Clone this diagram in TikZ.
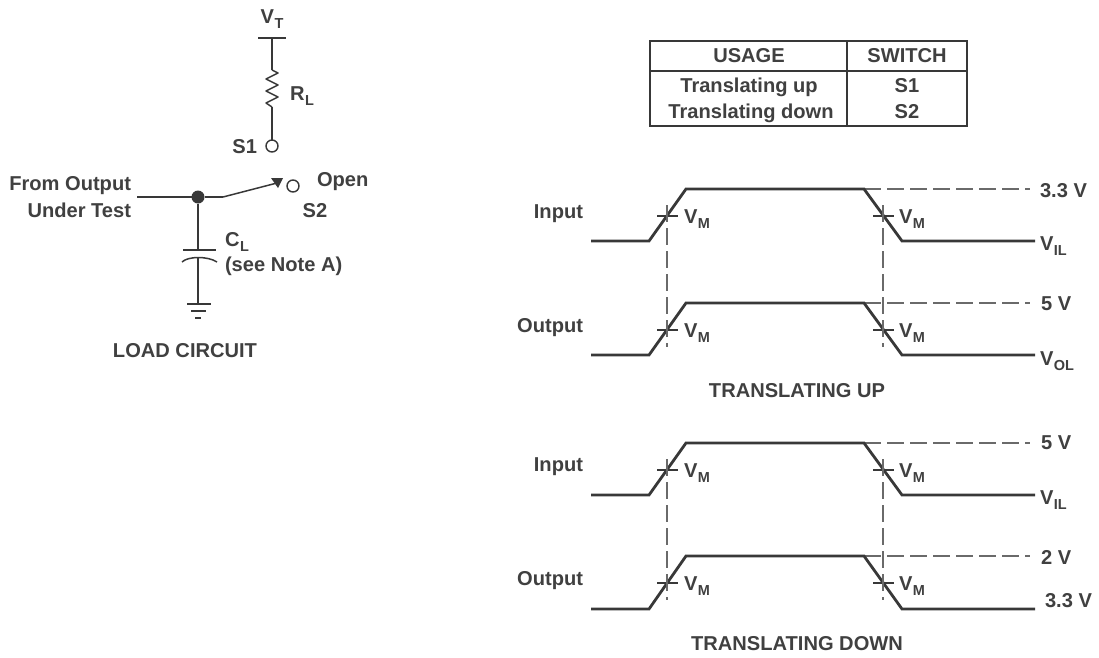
\documentclass[tikz,border=0pt]{standalone}
\usepackage{fontspec}
\setmainfont{Liberation Sans}[BoldFont={Liberation Sans Bold}]
\definecolor{ink}{gray}{0.22}
\definecolor{txt}{gray}{0.25}
\tikzset{
  x=1pt,y=-1pt,
  every node/.style={inner sep=0pt,outer sep=0pt,text=txt,font=\fontsize{20.1}{22}\selectfont\bfseries},
  wire/.style={draw=ink,line width=1.5pt},
  wave/.style={draw=ink,line width=2.8pt,line join=miter},
  guide/.style={draw=ink!75,line width=1.2pt,dash pattern=on 17pt off 6pt},
  tick/.style={draw=ink,line width=1.2pt},
  terminal/.style={circle,draw=ink,line width=1.4pt,fill=white,minimum size=12pt},
  dotnode/.style={circle,fill=ink,minimum size=13pt},
  tbl/.style={draw=ink,line width=1.5pt},
}
\newcommand{\vsub}[2]{#1\kern0.5pt\raisebox{-0.28em}{\fontsize{14.5}{16}\selectfont #2}}
% waveform: #1 y of high level, #2 y of low level, #3 prefix
\newcommand{\wavepulse}[3]{%
  \coordinate (#3a) at (591,#2);
  \coordinate (#3b) at (649,#2);
  \coordinate (#3c) at (686,#1);
  \coordinate (#3d) at (864,#1);
  \coordinate (#3e) at (902,#2);
  \coordinate (#3f) at (1035,#2);
  \coordinate (#3g) at (1030,#1);
  \path[guide] (#3d) -- (#3g);
  \path[wave] (#3a) -- (#3b) -- (#3c) -- (#3d) -- (#3e) -- (#3f);
  \coordinate (#3tl1) at (657,#1+27);
  \coordinate (#3tl2) at (678,#1+27);
  \coordinate (#3tr1) at (873,#1+27);
  \coordinate (#3tr2) at (894,#1+27);
  \path[tick] (#3tl1) -- (#3tl2);
  \path[tick] (#3tr1) -- (#3tr2);
  \node[anchor=west] (#3vml) at (684,#1+30) {\vsub{V}{M}};
  \node[anchor=west] (#3vmr) at (899,#1+30) {\vsub{V}{M}};
}
\begin{document}
\begin{tikzpicture}
\useasboundingbox (0,0) rectangle (1099,657);
% load circuit
\node (vt) at (272,19) {\vsub{V}{T}};
\coordinate (vtl) at (258,38); \coordinate (vtr) at (286,38); \coordinate (vtm) at (272,38);
\path[wire] (vtl) -- (vtr);
\coordinate (rt) at (272,70);
\path[wire] (vtm) -- (rt);
\path[wire,line join=round] (rt) -- (278,73) -- (266,79) -- (278,85) -- (266,91) -- (278,97) -- (266,103) -- (272,107);
\coordinate (rb) at (272,107);
\node[anchor=west] (rl) at (290,96) {\vsub{R}{L}};
\node[terminal] (s1t) at (272,146) {};
\path[wire] (rb) -- (s1t);
\node[anchor=east] (s1) at (257,147) {S1};
\node[anchor=east] (fo) at (131,186) {From Output};
\node[anchor=east] (ut) at (131,210) {Under Test};
\coordinate (in) at (137,197);
\coordinate (sw) at (223,197);
\node[dotnode] (j) at (198,197) {};
\path[wire] (in) -- (j) -- (sw);
\node[terminal] (s2t) at (293,186) {};
\coordinate (tip) at (277,183);
\path[wire] (sw) -- (tip);
\fill[ink] (271,178) -- (283,178) -- (278,188) -- cycle;
\node[anchor=west] (open) at (317,182) {Open};
\node (s2) at (315,211) {S2};
\coordinate (cpl) at (183,250); \coordinate (cpr) at (216,250); \coordinate (cpt) at (198,250);
\path[wire] (j) -- (cpt);
\path[wire] (cpl) -- (cpr);
\coordinate (cal) at (182,262); \coordinate (car) at (217,262); \coordinate (cam) at (198,257);
\path[wire] (cal) .. controls (188,256) and (208,256) .. (car);
\coordinate (g1) at (198,304);
\path[wire] (cam) -- (g1);
\coordinate (g1l) at (187,304); \coordinate (g1r) at (211,304);
\coordinate (g2l) at (191,311); \coordinate (g2r) at (206,311);
\coordinate (g3l) at (195,318); \coordinate (g3r) at (201,318);
\path[wire] (g1l) -- (g1r); \path[wire] (g2l) -- (g2r); \path[wire] (g3l) -- (g3r);
\node[anchor=west] (cl) at (225,242) {\vsub{C}{L}};
\node[anchor=west] (note) at (225,266) {(see Note A)};
\node (lc) at (185,351) {LOAD CIRCUIT};
% table
\coordinate (t1) at (650,41); \coordinate (t2) at (967,126);
\path[tbl] (t1) rectangle (t2);
\coordinate (h1) at (650,71); \coordinate (h2) at (967,71);
\coordinate (d1) at (847,41); \coordinate (d2) at (847,126);
\path[tbl] (h1) -- (h2); \path[tbl] (d1) -- (d2);
\node (usage) at (749,56) {USAGE};
\node (switch) at (907,56) {SWITCH};
\node (tu) at (749,87) {Translating up};
\node (td) at (751,113) {Translating down};
\node (sa) at (907,86) {S1};
\node (sb) at (907,112) {S2};
% waveforms
\wavepulse{189}{241}{A}
\wavepulse{303}{355}{B}
\wavepulse{443}{495}{C}
\wavepulse{556}{609}{D}
\coordinate (v1t) at (667,205); \coordinate (v1b) at (667,347);
\coordinate (v2t) at (883,205); \coordinate (v2b) at (883,347);
\path[guide] (v1t) -- (v1b); \path[guide] (v2t) -- (v2b);
\coordinate (v3t) at (667,459); \coordinate (v3b) at (667,600);
\coordinate (v4t) at (883,459); \coordinate (v4b) at (883,600);
\path[guide] (v3t) -- (v3b); \path[guide] (v4t) -- (v4b);
\node[anchor=east] (i1) at (583,214) {Input};
\node[anchor=east] (o1) at (583,328) {Output};
\node[anchor=east] (i2) at (583,467) {Input};
\node[anchor=east] (o2) at (583,581) {Output};
\node[anchor=west] (l1) at (1040,191) {3.3 V};
\node[anchor=west] (l2) at (1040,246) {\vsub{V}{IL}};
\node[anchor=west] (l3) at (1041,304) {5 V};
\node[anchor=west] (l4) at (1040,361) {\vsub{V}{OL}};
\node[anchor=west] (l5) at (1041,443) {5 V};
\node[anchor=west] (l6) at (1040,500) {\vsub{V}{IL}};
\node[anchor=west] (l7) at (1041,557) {2 V};
\node[anchor=west] (l8) at (1045,601) {3.3 V};
\node (tup) at (797,391) {TRANSLATING UP};
\node (tdn) at (797,644) {TRANSLATING DOWN};
\end{tikzpicture}
\end{document}
